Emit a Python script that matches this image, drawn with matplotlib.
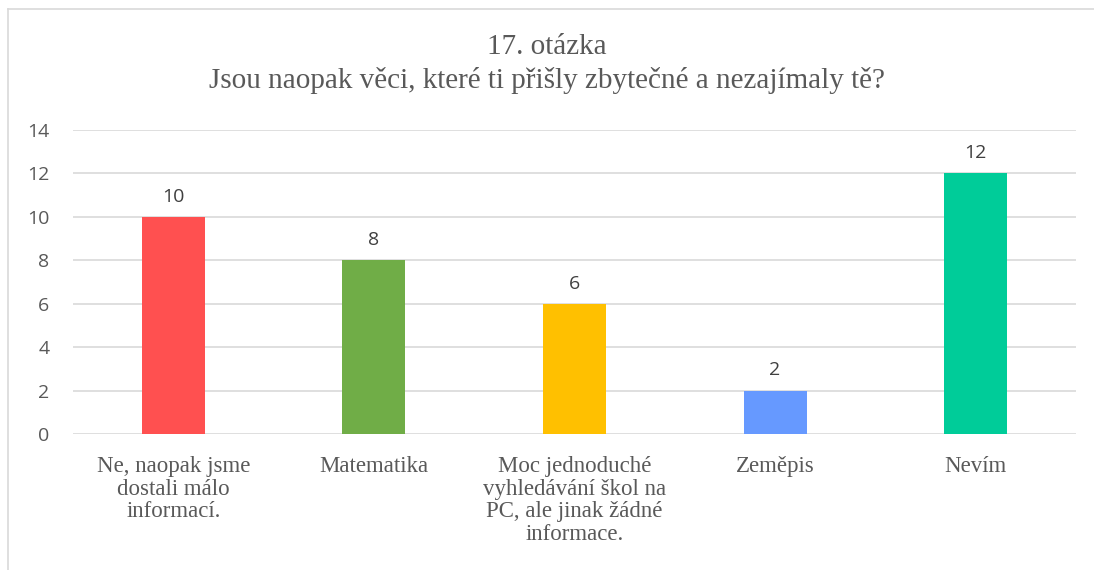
import numpy as np
import matplotlib.pyplot as plt
from matplotlib.lines import Line2D

# data
categories = ["Ne, naopak jsme\ndostali málo\ninformací.", "Matematika",
              "Moc jednoduché\nvyhledávání škol na\nPC, ale jinak žádné\ninformace.",
              "Zeměpis", "Nevím"]
values = [10, 8, 6, 2, 12]
colors = ["#FF5050", "#70AD47", "#FFC000", "#6699FF", "#00CC99"]
title = "17. otázka\nJsou naopak věci, které ti přišly zbytečné a nezajímaly tě?"

text_col = "#595959"
serif = "Liberation Serif"
sans = ["Open Sans", "DejaVu Sans"]

fig = plt.figure(figsize=(10.94, 5.70), dpi=100)
ax = fig.add_axes([0.0667, 0.2386, 0.9168, 0.5333])

x = np.arange(len(values))
bars = ax.bar(x, values, width=0.314, color=colors, zorder=3)
for b, v in zip(bars, values):
    ax.annotate(str(v), (b.get_x() + b.get_width() / 2, v), xytext=(0, 8),
                textcoords="offset points", ha="center", va="bottom",
                fontsize=14, color="#404040", family=sans)

ax.set_xlim(-0.5, len(values) - 0.5)
ax.set_ylim(0, 14)
ax.set_yticks(range(0, 15, 2))
ax.yaxis.grid(True, color="#D9D9D9", linewidth=1.2, zorder=0)
for s in ax.spines.values():
    s.set_visible(False)
ax.tick_params(axis="both", length=0)
ax.tick_params(axis="y", pad=17, labelsize=14, labelcolor=text_col)
ax.set_yticklabels([str(t) for t in range(0, 15, 2)], family=sans)
ax.set_xticks(x)
ax.set_xticklabels(categories, family=serif, fontsize=16.5, color=text_col,
                   linespacing=1.1, va="top")
ax.tick_params(axis="x", pad=16)

fig.text(0.5, 0.94, title, ha="center", va="top", family=serif,
         fontsize=21, color=text_col, linespacing=1.32)

# chart frame (left and top edges visible)
fig.add_artist(Line2D([8 / 1094, 8 / 1094], [0, 1 - 9 / 570],
                      transform=fig.transFigure, color="#D9D9D9", lw=1.2))
fig.add_artist(Line2D([8 / 1094, 1], [1 - 9 / 570, 1 - 9 / 570],
                      transform=fig.transFigure, color="#D9D9D9", lw=1.2))

fig.savefig("out.png", dpi=100)
